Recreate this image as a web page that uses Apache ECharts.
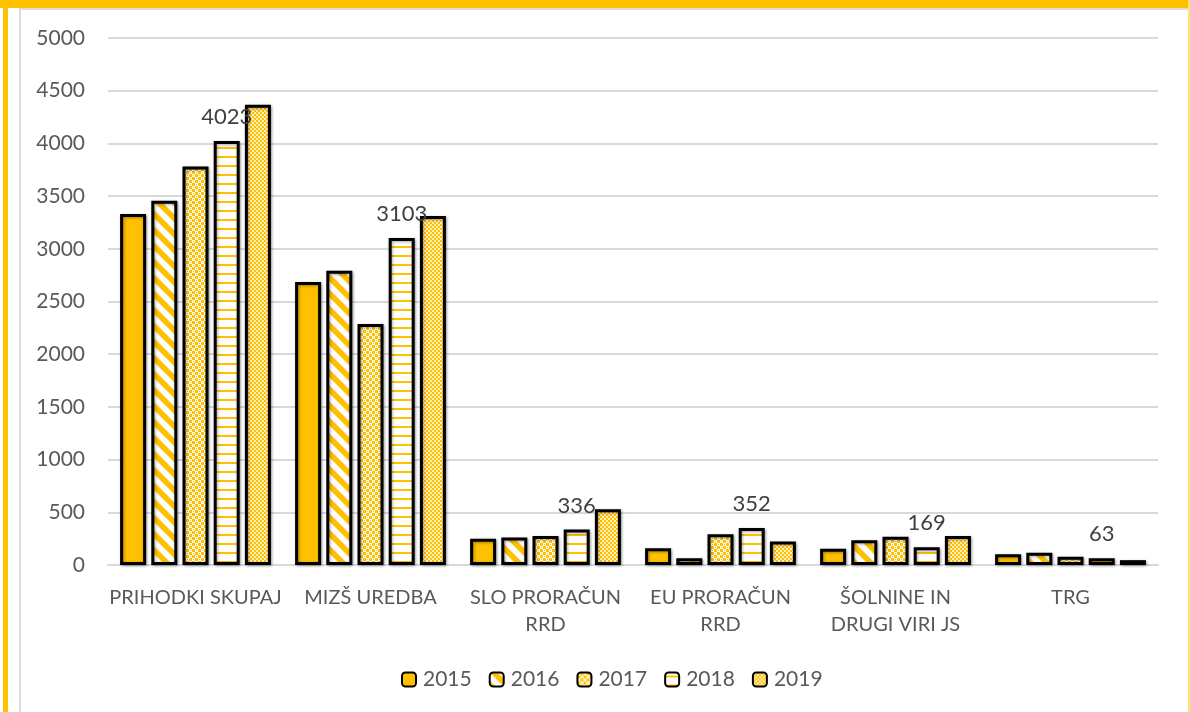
<!DOCTYPE html>
<html>
<head>
<meta charset="utf-8">
<script src="https://cdn.jsdelivr.net/npm/echarts@6/dist/echarts.min.js"></script>
<style>
html,body{margin:0;padding:0;background:#fff;}
#wrap{position:relative;width:1190px;height:712px;overflow:hidden;background:#fff;}
#topband{position:absolute;left:0;top:0;width:1190px;height:8px;background:#FFC000;}
#leftband{position:absolute;left:3px;top:0;width:5px;height:712px;background:#FFC000;}
#frame{position:absolute;left:19px;top:8px;width:1167px;height:720px;border-left:2px solid #dcdcdc;border-top:2px solid #dcdcdc;border-right:2px solid #dcdcdc;}
#rightband{position:absolute;left:1188px;top:0;width:2px;height:712px;background:#FFE27A;}
#chart{position:absolute;left:0;top:0;width:1190px;height:712px;}
</style>
</head>
<body>
<div id="wrap">
<div id="topband"></div>
<div id="leftband"></div>
<div id="frame"></div>
<div id="rightband"></div>
<div id="chart"></div>
</div>
<script>
const categories = ['PRIHODKI SKUPAJ', 'MIZŠ UREDBA', 'SLO PRORAČUN\nRRD', 'EU PRORAČUN\nRRD', 'ŠOLNINE IN\nDRUGI VIRI JS', 'TRG'];
const years = ['2015', '2016', '2017', '2018', '2019'];
const v2015 = [3330, 2685, 250, 160, 154, 103];
const v2016 = [3455, 2792, 262, 65, 236, 116];
const v2017 = [3780, 2287, 274, 292, 268, 78];
const v2018 = [4023, 3103, 336, 352, 169, 63];
const v2019 = [4367, 3311, 530, 223, 274, 46];
const yTicks = [0, 500, 1000, 1500, 2000, 2500, 3000, 3500, 4000, 4500, 5000];

const OR = '#FFC000';
function tile(w, h, draw) {
  const c = document.createElement('canvas');
  c.width = w; c.height = h;
  const g = c.getContext('2d');
  draw(g, w, h);
  return c;
}
const pSolid = OR;
const pDiag = { image: tile(16, 16, (g, w, h) => {
  g.fillStyle = '#fff'; g.fillRect(0, 0, w, h);
  g.fillStyle = OR;
  for (let o = -32; o <= 32; o += 16) {
    g.beginPath();
    g.moveTo(o, 0); g.lineTo(o + 8, 0); g.lineTo(o + 8 + 16, 16); g.lineTo(o + 16, 16);
    g.closePath(); g.fill();
  }
}), repeat: 'repeat' };
const pCheckBig = { image: tile(6, 6, (g, w, h) => {
  g.fillStyle = OR; g.fillRect(0, 0, w, h);
  g.fillStyle = '#fff';
  g.fillRect(0, 0, 3, 3); g.fillRect(3, 3, 3, 3);
  g.fillStyle = OR;
  g.fillRect(1, 1, 1, 1); g.fillRect(4, 4, 1, 1);
}), repeat: 'repeat' };
const pHoriz = { image: tile(4, 9, (g, w, h) => {
  g.fillStyle = '#fff'; g.fillRect(0, 0, w, h);
  g.fillStyle = OR; g.fillRect(0, 3, w, 2);
}), repeat: 'repeat' };
const pCheckSmall = { image: tile(4, 4, (g, w, h) => {
  g.fillStyle = '#FFF0C0'; g.fillRect(0, 0, w, h);
  g.fillStyle = OR;
  g.fillRect(0, 0, 2, 2); g.fillRect(2, 2, 2, 2);
}), repeat: 'repeat' };
const patterns = [pSolid, pDiag, pCheckBig, pHoriz, pCheckSmall];
const values = [v2015, v2016, v2017, v2018, v2019];

const FONT = 'Lato';
const series = years.map((y, i) => ({
  name: y,
  type: 'bar',
  data: values[i],
  barWidth: 26,
  barGap: '20%',
  itemStyle: {
    color: patterns[i],
    borderColor: '#000',
    borderWidth: 3,
    shadowColor: 'rgba(0,0,0,0.35)',
    shadowBlur: 3,
    shadowOffsetX: 1,
    shadowOffsetY: 1
  },
  label: i === 3 ? {
    show: true, position: 'top', distance: 13,
    fontFamily: FONT, fontSize: 22, color: '#404040'
  } : { show: false }
}));

const chart = echarts.init(document.getElementById('chart'), null, { renderer: 'canvas' });
chart.setOption({
  animation: false,
  backgroundColor: 'transparent',
  grid: { left: 108, right: 32, top: 38, bottom: 147, containLabel: false },
  legend: {
    top: 664,
    left: 396,
    itemWidth: 14,
    itemHeight: 14,
    itemGap: 17,
    textStyle: { fontFamily: FONT, fontSize: 21, color: '#595959', padding: [0, 0, 0, 2] },
    data: years
  },
  xAxis: {
    type: 'category',
    data: categories,
    axisLine: { lineStyle: { color: '#d9d9d9', width: 2 } },
    axisTick: { show: false },
    axisLabel: { fontFamily: FONT, fontSize: 20, color: '#595959', margin: 19, lineHeight: 27, interval: 0 }
  },
  yAxis: {
    type: 'value',
    min: yTicks[0],
    max: yTicks[yTicks.length - 1],
    interval: yTicks[1] - yTicks[0],
    axisLine: { show: false },
    axisTick: { show: false },
    splitLine: { lineStyle: { color: '#d9d9d9', width: 2 } },
    axisLabel: { fontFamily: FONT, fontSize: 21, color: '#595959', margin: 23, formatter: v => String(v) }
  },
  series: series
});
</script>
</body>
</html>
